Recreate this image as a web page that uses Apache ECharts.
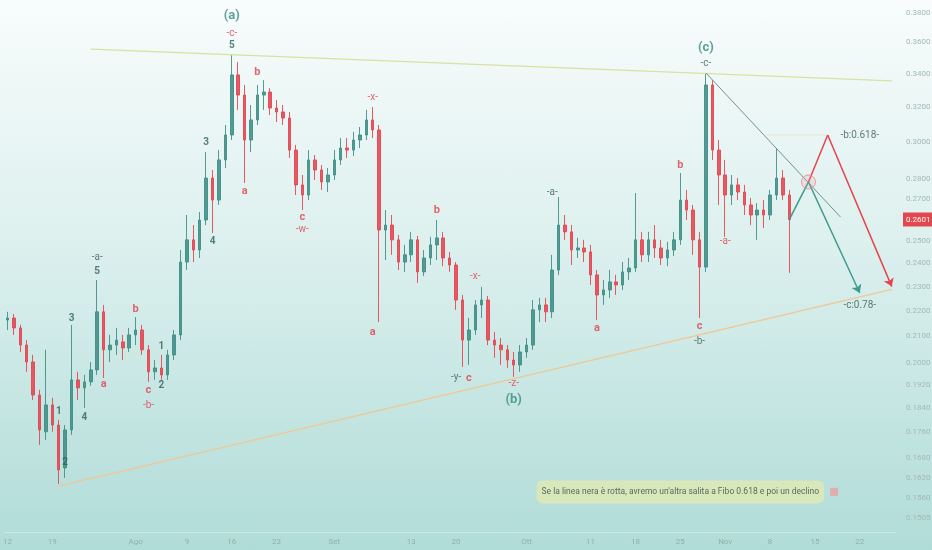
<!DOCTYPE html>
<html><head><meta charset="utf-8">
<script src="https://cdn.jsdelivr.net/npm/echarts/dist/echarts.min.js"></script>
<style>
html,body{margin:0;padding:0;width:932px;height:550px;overflow:hidden;}
body{background:linear-gradient(180deg,#f8fcfc 0%,#dcf0ee 45%,#b0dcd8 100%);}
#c{width:932px;height:550px;}
</style></head><body><div id="c"></div>
<script>
// ---- time axis (daily) ----
const startDate = '2021-07-12';
const dayCount = 139;
const tickDays   = [0,7,20,28,35,42,51,63,70,81,91,98,105,112,119,126,133];
const tickLabels = ['12','19','Ago','9','16','23','Set','13','20','Ott','11','18','25','Nov','8','15','22'];
const priceTicks = [0.38,0.36,0.34,0.32,0.30,0.28,0.27,0.25,0.24,0.23,0.22,0.21,0.20,0.192,0.184,0.176,0.168,0.162,0.156,0.1505];
const lastPrice = 0.2601;

// ---- candles (one per day, from day 0) ----
const openP = [
.2163,.2171,.2132,.2066,.2003,.1885,.1762,.1851,.1784,.1649,
.1768,.1938,.1910,.1931,.1974,.2196,.2048,.2066,.2078,.2055,
.2105,.2124,.2048,.1967,.1981,.1956,.2029,.2105,.2406,.2506,
.2460,.2599,.2807,.2696,.2902,.3038,.3392,.3269,.3010,.3123,
.3269,.3287,.3192,.3169,.3134,.2955,.2772,.2721,.2902,.2849,
.2787,.2823,.2902,.2966,.2955,.3010,.3038,.3123,.3066,.2552,
.2575,.2506,.2406,.2438,.2506,.2363,.2424,.2483,.2515,.2424,
.2393,.2244,.2085,.2124,.2224,.2244,.2085,.2066,.2048,.2010,
.1992,.2040,.2066,.2204,.2224,.2196,.2371,.2575,.2543,.2460,
.2469,.2451,.2350,.2265,.2286,.2320,.2307,.2363,.2380,.2506,
.2438,.2506,.2469,.2424,.2460,.2506,.2696,.2647,.2506,.2384,
.3330,.2955,.2823,.2721,.2772,.2736,.2672,.2623,.2647,.2623,
.2721,.2807,.2721];
const closeP = [
.2171,.2132,.2066,.2003,.1885,.1768,.1851,.1784,.1643,.1768,
.1938,.1910,.1931,.1974,.2196,.2048,.2066,.2085,.2055,.2105,
.2124,.2048,.1967,.1981,.1956,.2029,.2105,.2406,.2506,.2460,
.2599,.2807,.2696,.2902,.3038,.3392,.3269,.3010,.3123,.3269,
.3287,.3192,.3169,.3134,.2955,.2772,.2721,.2902,.2849,.2787,
.2823,.2902,.2966,.2955,.3010,.3038,.3123,.3066,.2552,.2575,
.2506,.2406,.2438,.2506,.2363,.2424,.2483,.2515,.2424,.2393,
.2244,.2085,.2124,.2224,.2244,.2085,.2066,.2048,.2010,.1992,
.2040,.2066,.2204,.2224,.2196,.2371,.2575,.2543,.2460,.2469,
.2451,.2350,.2265,.2286,.2320,.2307,.2363,.2380,.2506,.2438,
.2506,.2469,.2424,.2460,.2506,.2696,.2647,.2506,.2384,.3330,
.2955,.2823,.2721,.2772,.2736,.2672,.2623,.2647,.2623,.2721,
.2807,.2721,.2601];
const lowP = [
.2124,.2105,.2040,.1967,.1868,.1720,.1736,.1762,.1601,.1619,
.1752,.1868,.1841,.1917,.1956,.1945,.2003,.2029,.2010,.2040,
.2066,.2029,.1931,.1938,.1938,.1938,.2010,.2085,.2371,.2406,
.2424,.2575,.2538,.2672,.2859,.3010,.3181,.2782,.2944,.3094,
.3181,.3151,.3111,.3094,.2912,.2721,.2647,.2696,.2797,.2746,
.2736,.2797,.2875,.2912,.2923,.2966,.3010,.3021,.2155,.2415,
.2438,.2371,.2363,.2406,.2316,.2345,.2393,.2415,.2388,.2363,
.2204,.1985,.1992,.2105,.2171,.2066,.2018,.1992,.1981,.1949,
.1967,.2018,.2048,.2155,.2155,.2171,.2350,.2506,.2393,.2424,
.2406,.2307,.2163,.2224,.2253,.2265,.2286,.2328,.2363,.2406,
.2406,.2424,.2393,.2388,.2433,.2483,.2599,.2438,.2171,.2363,
.2902,.2672,.2520,.2672,.2696,.2623,.2575,.2506,.2561,.2599,
.2696,.2696,.2359];
const highP = [
.2196,.2187,.2144,.2085,.2029,.1903,.2048,.1875,.1801,.1784,
.2144,.1967,.1956,.2003,.2328,.2224,.2105,.2132,.2105,.2132,
.2175,.2144,.2066,.2010,.2029,.2048,.2124,.2460,.2623,.2575,
.2637,.2944,.2849,.2955,.3094,.3518,.3473,.3330,.3210,.3330,
.3360,.3311,.3239,.3210,.3169,.2983,.2823,.2955,.2928,.2875,
.2859,.2955,.3021,.3021,.3055,.3083,.3181,.3198,.3094,.2647,
.2623,.2529,.2483,.2543,.2524,.2460,.2520,.2599,.2543,.2451,
.2406,.2265,.2171,.2244,.2299,.2261,.2116,.2093,.2066,.2040,
.2066,.2093,.2244,.2253,.2253,.2438,.2711,.2623,.2575,.2515,
.2506,.2483,.2371,.2328,.2371,.2350,.2406,.2424,.2731,.2543,
.2543,.2575,.2506,.2497,.2543,.2833,.2746,.2672,.2543,.3404,
.3360,.3010,.2902,.2823,.2807,.2772,.2706,.2681,.2696,.2746,
.2966,.2849,.2746];

// ---- drawings (day index, price) ----
const upperTrend = [[13,0.3557],[138,0.3355]];
const lowerTrend = [[8,0.1595],[138,0.2288]];
const blackLine  = [[109,0.3404],[130,0.2613]];
const fibLine    = [[118,0.3038],[128,0.3038]];
const greenUp    = [[122,0.2601],[125,0.2787]];
const greenDown  = [[125,0.2787],[133,0.2273]];
const redUp      = [[125,0.2787],[128,0.3038]];
const redDown    = [[128,0.3038],[138,0.2300]];
const breakPoint = [125,0.2787];

// ---- wave labels ----
const annDay   = [8,9,10,12,14,14,15,20,22,22,24,24,31,32,35,35,35,37,39,46,46,57,57,67,73,70,72,79,79,85,92,105,108,108,109,109,112,133,133];
const annPrice = [.1828,.1664,.2171,.1808,.2363,.2424,.1924,.2208,.1903,.1848,.2059,.1917,.2994,.2497,.3779,.3663,.3577,.2741,.3410,.2613,.2552,.3257,.2116,.2647,.2345,.1945,.1945,.1927,.1868,.2736,.2132,.2875,.2140,.2081,.3564,.3467,.2497,.3033,.2220];
const annText  = ['1','2','3','4','5','-a-','a','b','c','-b-','1','2','3','4','(a)','-c-','5','a','b','c','-w-','-x-','a','b','-x-','-y-','c','-z-','(b)','-a-','a','b','c','-b-','(c)','-c-','-a-','-b:0.618-','-c:0.78-'];
const annKind  = ['n','n','n','n','n','d','r','r','r','R','n','n','n','n','T','R','n','r','r','r','R','R','r','r','R','d','r','R','T','d','r','r','r','d','T','d','R','d','d'];
const noteText = "Se la linea nera è rotta, avremo un'altra salita a Fibo 0.618 e poi un declino";
const notePos = [105,0.1578];
const iconPos = [129,0.1578];

const categories = [];
{
  const s = new Date(startDate + 'T00:00:00Z');
  for (let i = 0; i < dayCount; i++) {
    const d = new Date(s.getTime() + i * 86400000);
    categories.push(d.toISOString().slice(0,10));
  }
}
const candles = openP.map((o,i)=>[o, closeP[i], lowP[i], highP[i]]);

const kindStyle = {
  n:{color:'#2f5f5a',fontSize:10,fontWeight:'bold'},
  d:{color:'#3e5b58',fontSize:10},
  r:{color:'#e2404b',fontSize:11,fontWeight:'bold'},
  R:{color:'#e2404b',fontSize:10},
  T:{color:'#3a8a82',fontSize:13,fontWeight:'bold'}
};
const annData = annDay.map((d,i)=>({
  value:[d, annPrice[i]],
  label:Object.assign({show:true, position:'inside', formatter:annText[i]}, kindStyle[annKind[i]])
}));

const FONT = 'Roboto, "Liberation Sans", sans-serif';
const chart = echarts.init(document.getElementById('c'), null, {renderer:'canvas'});
const trendLine = (data,color,width,type,z) => ({
  type:'line', data, symbol:'none', silent:true, z:z||3,
  lineStyle:{color, width, type:type||'solid'}, animation:false
});
const arrowSeg = (seg,color) => ({
  type:'lines', coordinateSystem:'cartesian2d', silent:true, z:4,
  symbol:['none','arrow'], symbolSize:8,
  lineStyle:{color, width:1.5, opacity:1},
  data:[{coords:seg}], animation:false
});

chart.setOption({
  animation:false,
  textStyle:{fontFamily:FONT},
  grid:{left:0, right:37, top:0, bottom:18, containLabel:false},
  xAxis:{
    type:'category', data:categories, boundaryGap:true,
    axisLine:{show:true, lineStyle:{color:'rgba(255,255,255,0.35)'}},
    axisTick:{show:false},
    splitLine:{show:false},
    axisLabel:{
      color:'#8fb0ac', fontSize:8, margin:6, fontFamily:FONT,
      interval:(idx)=>tickDays.indexOf(idx) >= 0,
      formatter:(v,idx)=>{const k=tickDays.indexOf(idx); return k>=0?tickLabels[k]:'';}
    }
  },
  yAxis:{
    type:'log', logBase:10, min:0.1466, max:0.3892, position:'right',
    axisLabel:{show:false}, axisLine:{show:false}, axisTick:{show:false}, splitLine:{show:false}
  },
  series:[
    {
      type:'candlestick', data:candles, barWidth:3, z:2,
      itemStyle:{color:'#3d8d85', color0:'#e5434e', borderColor:'#3d8d85', borderColor0:'#e5434e', borderWidth:1, opacity:0.88},
      markLine:{
        silent:true, symbol:'none', animation:false, precision:4,
        lineStyle:{color:'transparent', width:0},
        label:{show:true, position:'end', distance:11, color:'#a3b9b7', fontSize:8, fontFamily:FONT,
               formatter:(p)=>p.name},
        data: priceTicks.map(v=>({yAxis:v, name:v.toFixed(4)})).concat([{
          yAxis:lastPrice, name:lastPrice.toFixed(4),
          label:{show:true, position:'end', distance:8, color:'#ffffff', backgroundColor:'#e5474f', padding:[3,5,3,3], fontSize:8,
                 formatter:(p)=>p.name}
        }])
      }
    },
    trendLine(upperTrend,'#d6e2a0',1.2),
    trendLine(lowerTrend,'#efc795',1.3),
    trendLine(blackLine,'#6f928e',1),
    trendLine(fibLine,'#e6d8a6',1,'dotted'),
    trendLine(greenUp,'#3e9a8f',1.5,'solid',4),
    trendLine(redUp,'#e5434e',1.5,'solid',4),
    arrowSeg(greenDown,'#3e9a8f'),
    arrowSeg(redDown,'#e5434e'),
    {
      type:'scatter', data:[breakPoint], symbol:'circle', symbolSize:14, silent:true, z:5,
      itemStyle:{color:'rgba(240,150,160,0.25)', borderColor:'#e8868f', borderWidth:1}
    },
    {
      type:'scatter', data:annData, symbolSize:1, silent:true, z:6,
      itemStyle:{color:'transparent'}
    },
    {
      type:'scatter', silent:true, z:6, symbolSize:1, itemStyle:{color:'transparent'},
      data:[{value:notePos, label:{show:true, position:'inside', formatter:noteText,
        color:'#3b4a47', fontSize:8.5, backgroundColor:'#e0eab3', borderRadius:6, padding:[7,5]}}]
    },
    {
      type:'scatter', silent:true, z:6, symbol:'rect', symbolSize:8,
      itemStyle:{color:'#eba0a6'}, data:[iconPos]
    }
  ]
});
</script></body></html>
